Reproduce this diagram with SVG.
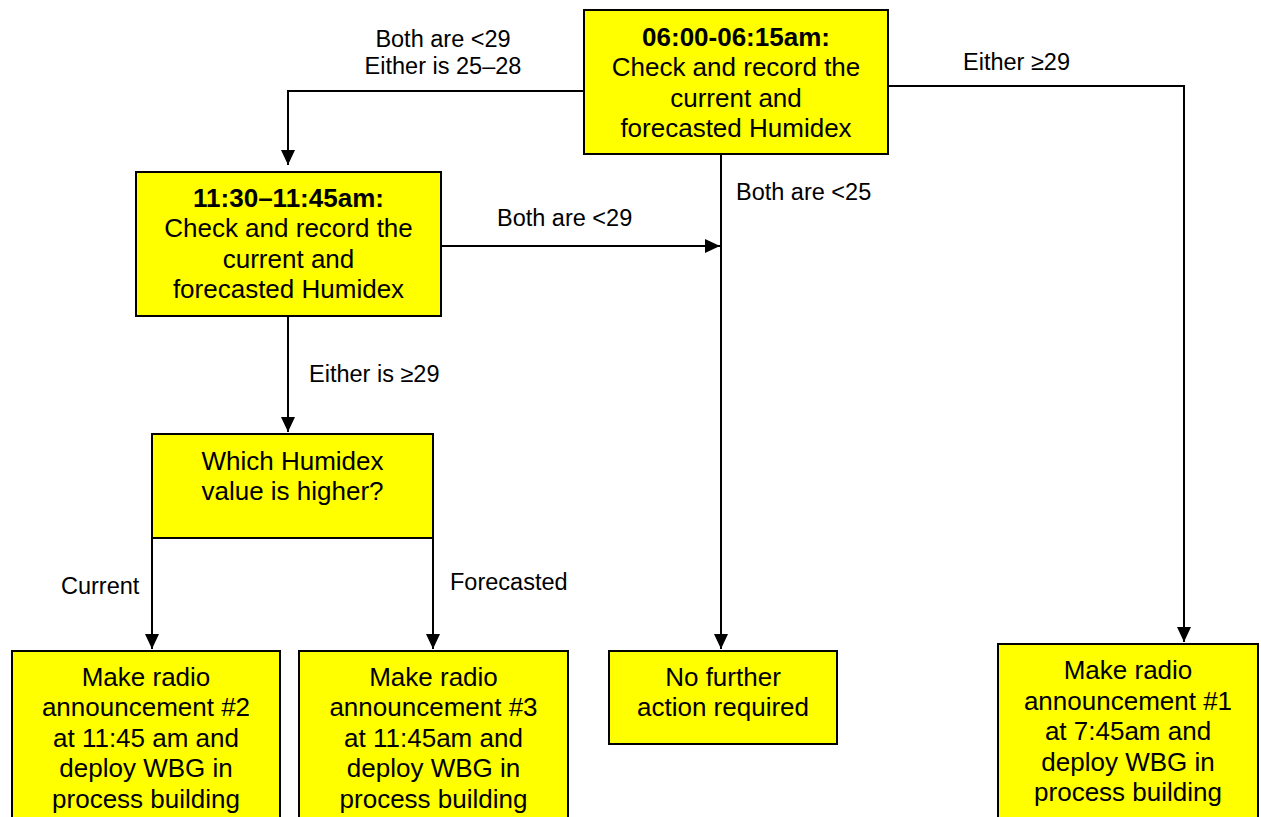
<svg xmlns="http://www.w3.org/2000/svg" width="1261" height="817" viewBox="0 0 1261 817">
<style>
.box{fill:#ffff00;stroke:#000;stroke-width:2}
.t{font-family:"Liberation Sans",Arial,sans-serif;font-size:26px;fill:#000;text-anchor:middle}
.b{font-weight:bold}
.lbl{font-family:"Liberation Sans",Arial,sans-serif;font-size:23.5px;fill:#000}
.c{fill:none;stroke:#000;stroke-width:2}
</style>
<defs>
<marker id="arr" viewBox="0 0 15 14" refX="15" refY="7" markerWidth="15" markerHeight="14" markerUnits="userSpaceOnUse" orient="auto">
<path d="M0,0 L15,7 L0,14 Z" fill="#000"/>
</marker>
</defs>
<rect width="1261" height="817" fill="#fff"/>
<g id="connectors">
<polyline class="c" points="584,91 288,91 288,165" marker-end="url(#arr)"/>
<polyline class="c" points="888,86 1184,86 1184,642" marker-end="url(#arr)"/>
<polyline class="c" points="721,154 721,649" marker-end="url(#arr)"/>
<polyline class="c" points="441,246 720,246" marker-end="url(#arr)"/>
<polyline class="c" points="288,316 288,432" marker-end="url(#arr)"/>
<polyline class="c" points="152,538 152,649" marker-end="url(#arr)"/>
<polyline class="c" points="433,538 433,649" marker-end="url(#arr)"/>
<text class="lbl" x="443" y="47" text-anchor="middle">Both are &lt;29</text>
<text class="lbl" x="443" y="74" text-anchor="middle">Either is 25–28</text>
<text class="lbl" x="963" y="70">Either ≥29</text>
<text class="lbl" x="736" y="200">Both are &lt;25</text>
<text class="lbl" x="497" y="226">Both are &lt;29</text>
<text class="lbl" x="309" y="382">Either is ≥29</text>
<text class="lbl" x="61" y="594">Current</text>
<text class="lbl" x="450" y="590">Forecasted</text>
</g>
<g id="n1">
<rect class="box" x="584" y="10" width="304" height="144"/>
<text class="t b" x="736" y="46">06:00-06:15am:</text>
<text class="t" x="736" y="76">Check and record the</text>
<text class="t" x="736" y="107">current and</text>
<text class="t" x="736" y="137">forecasted Humidex</text>
</g>
<g id="n2">
<rect class="box" x="136" y="172" width="305" height="144"/>
<text class="t b" x="288.5" y="207">11:30–11:45am:</text>
<text class="t" x="288.5" y="237">Check and record the</text>
<text class="t" x="288.5" y="268">current and</text>
<text class="t" x="288.5" y="298">forecasted Humidex</text>
</g>
<g id="n3">
<rect class="box" x="152" y="434" width="281" height="104"/>
<text class="t" x="292.5" y="470">Which Humidex</text>
<text class="t" x="292.5" y="500">value is higher?</text>
</g>
<g id="n4">
<rect class="box" x="12" y="651" width="268" height="180"/>
<text class="t" x="146" y="686">Make radio</text>
<text class="t" x="146" y="716">announcement #2</text>
<text class="t" x="146" y="747">at 11:45 am and</text>
<text class="t" x="146" y="777">deploy WBG in</text>
<text class="t" x="146" y="808">process building</text>
</g>
<g id="n5">
<rect class="box" x="299" y="651" width="269" height="180"/>
<text class="t" x="433.5" y="686">Make radio</text>
<text class="t" x="433.5" y="716">announcement #3</text>
<text class="t" x="433.5" y="747">at 11:45am and</text>
<text class="t" x="433.5" y="777">deploy WBG in</text>
<text class="t" x="433.5" y="808">process building</text>
</g>
<g id="n6">
<rect class="box" x="609" y="651" width="228" height="93"/>
<text class="t" x="723" y="686">No further</text>
<text class="t" x="723" y="716">action required</text>
</g>
<g id="n7">
<rect class="box" x="998" y="644" width="260" height="180"/>
<text class="t" x="1128" y="679">Make radio</text>
<text class="t" x="1128" y="710">announcement #1</text>
<text class="t" x="1128" y="740">at 7:45am and</text>
<text class="t" x="1128" y="771">deploy WBG in</text>
<text class="t" x="1128" y="801">process building</text>
</g>
</svg>
